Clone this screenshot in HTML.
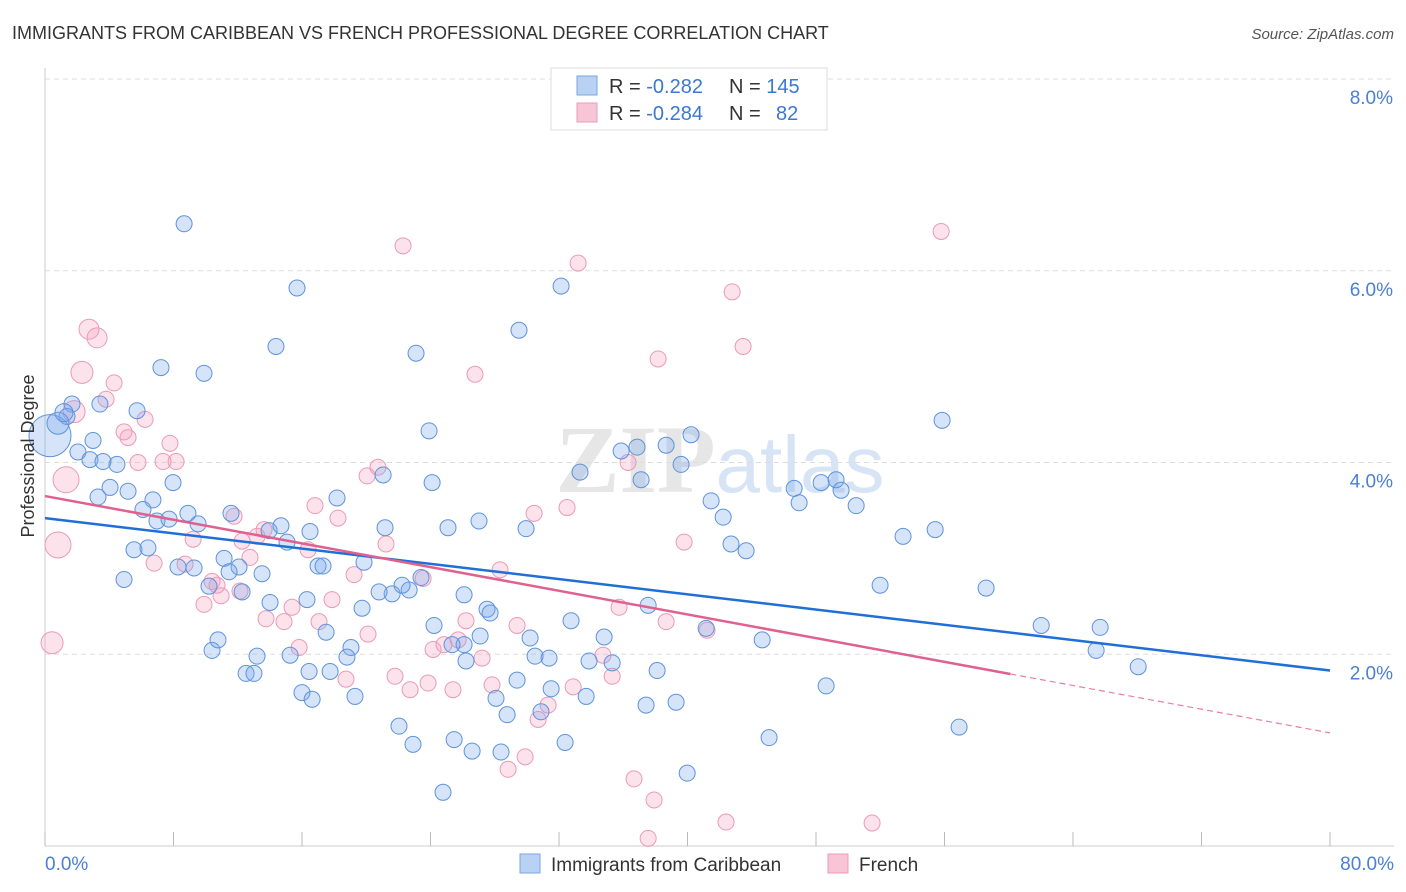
<!DOCTYPE html>
<html><head><meta charset="utf-8"><style>
body{margin:0;background:#fff;font-family:"Liberation Sans",sans-serif}
svg{display:block}
</style></head><body>
<svg id="chart" width="1406" height="892" xmlns="http://www.w3.org/2000/svg">
<text x="12" y="39" font-size="18" fill="#333">IMMIGRANTS FROM CARIBBEAN VS FRENCH PROFESSIONAL DEGREE CORRELATION CHART</text>
<text x="1394" y="39" font-size="15" fill="#555" font-style="italic" text-anchor="end">Source: ZipAtlas.com</text>
<text x="720" y="492" font-size="96" fill="#e6e6e6" text-anchor="middle" font-family="Liberation Serif,serif" font-weight="bold">ZIP<tspan fill="#d6e4f5" font-family="Liberation Sans,sans-serif" font-weight="normal" font-size="80">atlas</tspan></text>
<g id="grid"></g>
<g id="axes"></g>
<g id="pts"></g>
<g id="lines"></g>
<text transform="translate(34,456) rotate(-90)" font-size="18" fill="#333" text-anchor="middle">Professional Degree</text>
<g>
<rect x="551" y="68" width="276" height="62" fill="#fff" stroke="#ddd"/>
<rect x="577" y="76" width="20" height="19" fill="#b9d1f3" stroke="#7aa5e6"/>
<rect x="577" y="103" width="20" height="19" fill="#f8c5d6" stroke="#ea9cb7"/>
<text x="609" y="93" font-size="20" fill="#333">R = <tspan fill="#3a78d4">-0.282</tspan><tspan x="729">N = </tspan><tspan fill="#3a78d4">145</tspan></text>
<text x="609" y="120" font-size="20" fill="#333">R = <tspan fill="#3a78d4">-0.284</tspan><tspan x="729">N = </tspan><tspan fill="#3a78d4" x="776">82</tspan></text>
</g>
<g>
<rect x="520" y="854" width="20" height="19" fill="#b9d1f3" stroke="#7aa5e6"/>
<text x="551" y="871" font-size="19" fill="#333">Immigrants from Caribbean</text>
<rect x="828" y="854" width="20" height="19" fill="#f8c5d6" stroke="#ea9cb7"/>
<text x="859" y="871" font-size="19" fill="#333">French</text>
</g>
</svg>
<script>
const NS="http://www.w3.org/2000/svg";
const xTicks=[0,80];
const yTicks=[2,4,6,8];
const blueX=[8.66,15.69,32.13,29.51,14.38,23.10,7.22,9.90,5.73,3.42,1.68,1.37,2.99,2.05,2.80,4.48,3.61,7.97,3.30,5.17,4.05,6.72,6.10,6.97,8.90,7.72,9.53,11.58,5.54,6.41,11.15,8.28,9.28,12.08,11.46,13.51,4.92,10.21,12.27,14.01,16.31,17.00,17.31,15.07,13.95,14.69,16.50,18.18,21.17,19.86,21.05,23.91,24.10,25.09,27.02,29.95,33.31,35.87,36.86,38.67,40.22,39.60,37.11,41.47,42.22,42.71,43.65,46.64,46.95,48.32,49.25,49.56,50.50,53.42,55.42,55.85,51.99,58.59,62.02,65.69,65.44,68.06,56.91,48.63,45.08,39.98,44.65,41.16,38.11,37.55,34.81,33.87,35.31,32.75,31.38,30.51,30.20,27.52,27.71,26.09,27.09,26.21,26.09,24.22,25.34,23.41,22.67,22.23,21.61,20.80,19.74,19.05,18.80,17.75,17.50,16.44,16.00,16.63,19.30,22.04,22.91,25.47,26.59,28.39,28.77,29.39,28.08,31.51,33.69,32.38,30.88,37.42,39.29,24.78,13.20,12.52,13.01,10.40,10.77,15.26,0.31,0.81,1.18];
const blueY=[6.49,5.82,5.84,5.38,5.21,5.14,4.99,4.93,4.54,4.61,4.61,4.48,4.23,4.11,4.03,3.98,4.01,3.79,3.64,3.70,3.74,3.61,3.51,3.39,3.47,3.41,3.36,3.47,3.09,3.11,3.00,2.91,2.90,2.91,2.86,2.84,2.78,2.71,2.65,2.54,2.57,2.92,2.92,3.17,3.29,3.34,3.28,3.63,3.32,2.96,3.87,4.33,3.79,3.32,3.39,3.31,3.90,4.12,4.16,4.18,4.29,3.98,3.82,3.60,3.43,3.15,3.08,3.73,3.58,3.79,3.82,3.71,3.55,3.23,3.30,4.44,2.72,2.69,2.30,2.28,2.04,1.87,1.24,1.67,1.13,0.76,2.15,2.27,1.83,2.51,2.18,1.93,1.91,2.35,1.96,1.98,2.17,2.47,2.43,2.62,2.19,1.93,2.10,2.30,2.10,2.80,2.67,2.72,2.63,2.65,2.48,2.07,1.97,1.82,2.23,1.82,1.60,1.53,1.56,1.25,1.06,1.11,0.99,0.98,1.37,1.73,1.54,1.64,1.56,1.08,1.40,1.47,1.50,0.56,1.98,1.80,1.80,2.04,2.15,1.99,4.28,4.41,4.52];
const pinkX=[22.29,33.19,55.79,42.78,38.17,43.46,26.77,2.74,3.24,2.30,4.30,3.80,1.81,6.23,5.17,4.92,7.78,8.16,7.35,5.79,1.31,0.81,0.44,11.77,20.73,20.05,16.81,18.24,21.23,16.38,13.64,13.20,12.27,12.76,9.22,8.72,6.79,10.71,10.40,10.96,9.90,13.76,15.38,14.88,15.82,17.87,19.24,23.54,28.33,30.45,32.50,36.30,39.79,35.74,38.67,41.22,34.74,35.31,29.39,26.21,25.72,24.84,24.16,27.21,25.40,23.85,22.73,21.79,20.11,18.74,27.83,32.88,31.32,30.70,29.89,28.83,36.67,37.92,37.55,42.40,51.49,17.06,12.14];
const pinkY=[6.26,6.08,6.41,5.78,5.08,5.21,4.92,5.39,5.30,4.94,4.83,4.66,4.53,4.45,4.26,4.32,4.20,4.01,4.01,4.00,3.82,3.14,2.12,3.44,3.95,3.86,3.55,3.42,3.15,3.09,3.30,3.23,3.18,3.01,3.20,2.94,2.95,2.72,2.76,2.61,2.52,2.37,2.49,2.34,2.07,2.57,2.83,2.79,2.88,3.47,3.53,4.00,3.17,2.49,2.34,2.25,1.99,1.77,2.30,2.35,2.15,2.10,2.05,1.96,1.63,1.70,1.63,1.77,2.21,1.74,1.68,1.66,1.47,1.32,0.93,0.80,0.70,0.48,0.08,0.25,0.24,2.34,2.66];
const blueTrend=[3.42,1.83];
const pinkTrend=[3.65,1.18];
const pinkSolidEnd=60.1;
const bigBlue={140:21,141:11,142:9};
const bigPink={20:13,21:13,22:11,2:8,9:11,7:10,8:10,12:11};
const X0=45,X1=1330,Y0=846,Y8=79;
const sx=v=>X0+(v-0)/80*(X1-X0);
const sy=v=>Y0-(v/8)*(Y0-Y8);
function mk(tag,attrs,parent){const e=document.createElementNS(NS,tag);for(const k in attrs)e.setAttribute(k,attrs[k]);parent.appendChild(e);return e;}
const grid=document.getElementById('grid'),axes=document.getElementById('axes'),pts=document.getElementById('pts'),lines=document.getElementById('lines');
yTicks.forEach(t=>{
 const l=mk('line',{x1:X0,x2:1394,y1:sy(t),y2:sy(t),stroke:'#ddd','stroke-dasharray':'5,4'},grid);
 
 
 const tx=mk('text',{x:1393,y:sy(t)+25,'font-size':19,fill:'#4a7fd4','text-anchor':'end'},axes);
 
 
 tx.textContent=t.toFixed(1)+'%';
});
const ax=mk('line',{x1:X0,x2:X0,y1:68,y2:Y0,stroke:'#ccc'},axes);


const bx=mk('line',{x1:X0,x2:1394,y1:Y0,y2:Y0,stroke:'#ccc'},axes);


for(let i=0;i<=10;i++){
 const v=i*8;
 const tk=mk('line',{x1:sx(v),x2:sx(v),y1:Y0-14,y2:Y0,stroke:'#bbb'},axes);
 
 
}
xTicks.forEach((t,i)=>{
 const tx=mk('text',{x:i==0?X0:1394,y:870,'font-size':19,fill:'#4a7fd4','text-anchor':i==0?'start':'end'},axes);
 
 
 tx.textContent=t.toFixed(1)+'%';
});
pinkX.forEach((x,i)=>{
 const c=mk('circle',{cx:sx(x),cy:sy(pinkY[i]),r:bigPink[i]||8,fill:'rgba(244,160,190,0.3)',stroke:'#eb9ab8','stroke-width':1},pts);
 
 
});
blueX.forEach((x,i)=>{
 const c=mk('circle',{cx:sx(x),cy:sy(blueY[i]),r:bigBlue[i]||8,fill:'rgba(120,165,235,0.3)',stroke:'#5e93dc','stroke-width':1},pts);
 
 
});
const bl=mk('line',{x1:sx(0),y1:sy(blueTrend[0]),x2:sx(80),y2:sy(blueTrend[1]),stroke:'#1f6fd6','stroke-width':2.5},lines);


const py=x=>pinkTrend[0]+(pinkTrend[1]-pinkTrend[0])*x/80;
const pl=mk('line',{x1:sx(0),y1:sy(py(0)),x2:sx(pinkSolidEnd),y2:sy(py(pinkSolidEnd)),stroke:'#e0608f','stroke-width':2.5},lines);


const pd=mk('line',{x1:sx(pinkSolidEnd),y1:sy(py(pinkSolidEnd)),x2:sx(80),y2:sy(py(80)),stroke:'#e87fa5','stroke-width':1.2,'stroke-dasharray':'6,4'},lines);


</script>
</body></html>
